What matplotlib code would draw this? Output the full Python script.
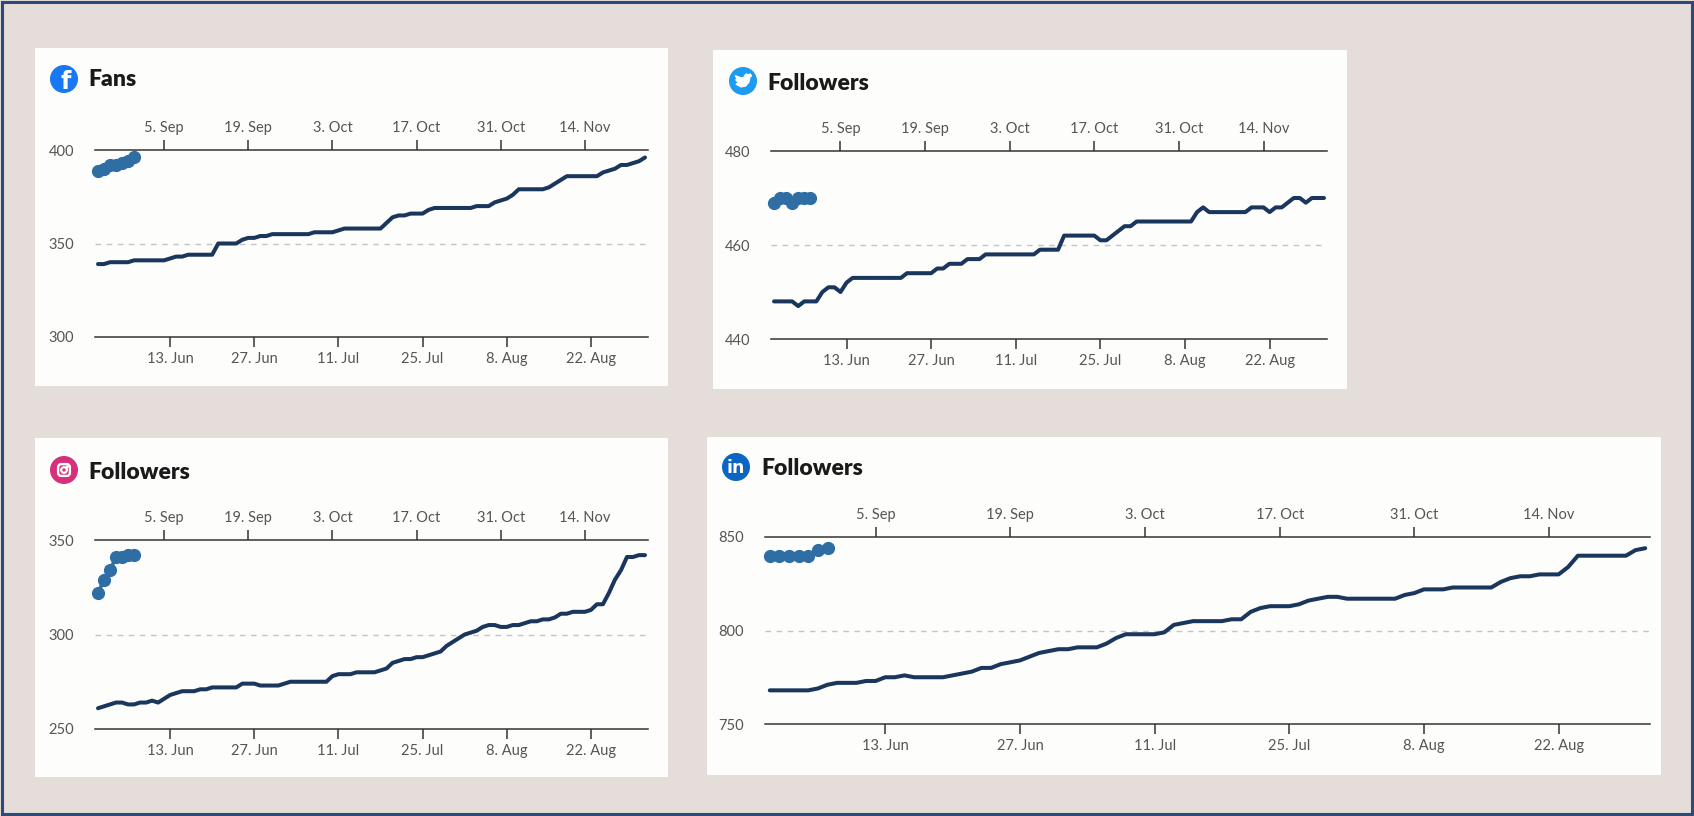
import matplotlib
matplotlib.use('Agg')
import matplotlib.pyplot as plt
import matplotlib.dates as mdates
from matplotlib.patches import Rectangle, Circle, FancyBboxPatch, Polygon
from matplotlib.ticker import FixedLocator, FuncFormatter
import pandas as pd

# daily values, 1 Jun - 31 Aug
days = pd.date_range('2021-06-01', periods=92, freq='D')
shift_days = 85   # top axis runs 85 days ahead of the bottom one

fb_fans = [339, 339, 340, 340, 340, 340, 341, 341, 341, 341, 341, 341, 342, 343, 343, 344,
           344, 344, 344, 344, 350, 350, 350, 350, 352, 353, 353, 354, 354, 355, 355, 355,
           355, 355, 355, 355, 356, 356, 356, 356, 357, 358, 358, 358, 358, 358, 358, 358,
           361, 364, 365, 365, 366, 366, 366, 368, 369, 369, 369, 369, 369, 369, 369, 370,
           370, 370, 372, 373, 374, 376, 379, 379, 379, 379, 379, 380, 382, 384, 386, 386,
           386, 386, 386, 386, 388, 389, 390, 392, 392, 393, 394, 396]

tw_followers = [448, 448, 448, 448, 447, 448, 448, 448, 450, 451, 451, 450, 452, 453, 453, 453,
                453, 453, 453, 453, 453, 453, 454, 454, 454, 454, 454, 455, 455, 456, 456, 456,
                457, 457, 457, 458, 458, 458, 458, 458, 458, 458, 458, 458, 459, 459, 459, 459,
                462, 462, 462, 462, 462, 462, 461, 461, 462, 463, 464, 464, 465, 465, 465, 465,
                465, 465, 465, 465, 465, 465, 467, 468, 467, 467, 467, 467, 467, 467, 467, 468,
                468, 468, 467, 468, 468, 469, 470, 470, 469, 470, 470, 470]

ig_followers = [261, 262, 263, 264, 264, 263, 263, 264, 264, 265, 264, 266, 268, 269, 270, 270,
                270, 271, 271, 272, 272, 272, 272, 272, 274, 274, 274, 273, 273, 273, 273, 274,
                275, 275, 275, 275, 275, 275, 275, 278, 279, 279, 279, 280, 280, 280, 280, 281,
                282, 285, 286, 287, 287, 288, 288, 289, 290, 291, 294, 296, 298, 300, 301, 302,
                304, 305, 305, 304, 304, 305, 305, 306, 307, 307, 308, 308, 309, 311, 311, 312,
                312, 312, 313, 316, 316, 322, 329, 334, 341, 341, 342, 342]

li_followers = [768, 768, 768, 768, 768, 769, 771, 772, 772, 772, 773, 773, 775, 775, 776, 775,
                775, 775, 775, 776, 777, 778, 780, 780, 782, 783, 784, 786, 788, 789, 790, 790,
                791, 791, 791, 793, 796, 798, 798, 798, 798, 799, 803, 804, 805, 805, 805, 805,
                806, 806, 810, 812, 813, 813, 813, 814, 816, 817, 818, 818, 817, 817, 817, 817,
                817, 817, 819, 820, 822, 822, 822, 823, 823, 823, 823, 823, 826, 828, 829, 829,
                830, 830, 830, 834, 840, 840, 840, 840, 840, 840, 843, 844]

n_recent = 7   # last week, drawn as dots against the top axis

bottom_ticks = pd.date_range('2021-06-13', periods=6, freq='14D')
top_ticks = pd.date_range('2021-09-05', periods=6, freq='14D')

W, H = 1694, 816
BG = '#e4ddd9'
LINE = '#1b365d'
DOTS = '#2f6ea5'
FONT = ['Lato', 'DejaVu Sans']

plt.rcParams['font.family'] = FONT

fig = plt.figure(figsize=(W / 100, H / 100), dpi=100, facecolor=BG)


def px_rect(x0, y0, x1, y1):
    return [x0 / W, 1 - y1 / H, (x1 - x0) / W, (y1 - y0) / H]


def date_fmt(x, pos):
    d = mdates.num2date(x)
    return '{0}. {1}'.format(d.day, d.strftime('%b'))


def panel(box, axbox, series, ylims, title, icon_xy, title_xy, icon):
    # white card
    fig.add_artist(Rectangle((box[0] / W, 1 - box[3] / H), (box[2] - box[0]) / W,
                             (box[3] - box[1]) / H, transform=fig.transFigure,
                             facecolor='#fdfdfc', edgecolor='none', zorder=-1))
    ax = fig.add_axes(px_rect(*axbox))
    ax.patch.set_visible(False)
    lo, hi = ylims
    mid = (lo + hi) / 2
    x0 = mdates.date2num(days[0]) - 0.5
    x1 = mdates.date2num(days[-1]) + 0.5

    ax.plot(days, series, color=LINE, lw=2.9, solid_capstyle='round',
            solid_joinstyle='round', zorder=3)
    ax.axhline(mid, color='#c4c4c4', lw=1, ls=(0, (4, 4)), zorder=1)
    ax.set_xlim(x0, x1)
    ax.set_ylim(lo, hi)
    ax.set_yticks([lo, mid, hi])
    ax.set_yticklabels(['{0:g}'.format(v) for v in (lo, mid, hi)])

    for s in ['left', 'right', 'top']:
        ax.spines[s].set_visible(False)
    ax.spines['bottom'].set_color('#333333')
    ax.spines['bottom'].set_linewidth(1.1)
    ax.xaxis.set_major_locator(FixedLocator(mdates.date2num(bottom_ticks)))
    ax.xaxis.set_major_formatter(FuncFormatter(date_fmt))
    ax.tick_params(axis='x', length=7, width=1.1, color='#333333', pad=4,
                   labelsize=10.5, labelcolor='#555555')
    ax.tick_params(axis='y', length=0, pad=15, labelsize=10.5, labelcolor='#555555')

    # top axis for the most recent days
    ax2 = ax.twiny()
    ax2.set_xlim(x0 + shift_days, x1 + shift_days)
    ax2.plot(days[-n_recent:], series[-n_recent:], color=DOTS, lw=2.6, marker='o',
             markersize=8.5, zorder=4, clip_on=False)
    for s in ['left', 'right', 'bottom']:
        ax2.spines[s].set_visible(False)
    ax2.spines['top'].set_color('#333333')
    ax2.spines['top'].set_linewidth(1.1)
    ax2.xaxis.set_major_locator(FixedLocator(mdates.date2num(top_ticks)))
    ax2.xaxis.set_major_formatter(FuncFormatter(date_fmt))
    ax2.tick_params(axis='x', length=7, width=1.1, color='#333333', pad=4,
                    labelsize=10.5, labelcolor='#555555')

    fig.text(title_xy[0] / W, 1 - title_xy[1] / H, title, fontsize=16.5,
             fontweight='heavy', color='#1a1a1a', ha='left', va='center')

    r = 14
    ia = fig.add_axes(px_rect(icon_xy[0] - r, icon_xy[1] - r, icon_xy[0] + r, icon_xy[1] + r))
    ia.set_xlim(-1, 1)
    ia.set_ylim(-1, 1)
    ia.axis('off')
    icon(ia)


def fb_icon(ia):
    ia.add_patch(Circle((0, 0), 0.95, color='#1877f2'))
    ia.text(0.14, -0.2, 'f', color='white', fontsize=17, fontweight='bold',
            ha='center', va='center', family='DejaVu Sans')


def tw_icon(ia):
    ia.add_patch(Circle((0, 0), 0.95, color='#1d9bf0'))
    bird = [(-0.55, 0.38), (-0.38, 0.12), (-0.52, 0.1), (-0.32, -0.14), (-0.5, -0.22),
            (-0.15, -0.42), (0.18, -0.36), (0.42, -0.08), (0.5, 0.28), (0.62, 0.4),
            (0.48, 0.38), (0.56, 0.5), (0.4, 0.44), (0.24, 0.5), (0.1, 0.36),
            (0.08, 0.22), (-0.22, 0.24)]
    ia.add_patch(Polygon(bird, closed=True, color='white'))


def ig_icon(ia):
    ia.add_patch(Circle((0, 0), 0.95, color='#d6307a'))
    ia.add_patch(FancyBboxPatch((-0.42, -0.42), 0.84, 0.84,
                                boxstyle='round,pad=0,rounding_size=0.22',
                                facecolor='none', edgecolor='white', lw=1.7))
    ia.add_patch(Circle((0, 0), 0.2, facecolor='none', edgecolor='white', lw=1.6))
    ia.add_patch(Circle((0.23, 0.23), 0.06, color='white'))


def li_icon(ia):
    ia.add_patch(Circle((0, 0), 0.95, color='#0a66c2'))
    ia.text(0.0, -0.05, 'in', color='white', fontsize=12.5, fontweight='bold',
            ha='center', va='center', family='DejaVu Sans')


panel((35, 48, 668, 386), (95, 150, 648, 337), fb_fans, (300, 400), 'Fans',
      (64, 79), (88, 80), fb_icon)
panel((713, 50, 1347, 389), (771, 151, 1327, 339), tw_followers, (440, 480), 'Followers',
      (743, 81), (767, 83), tw_icon)
panel((35, 438, 668, 777), (95, 540, 648, 729), ig_followers, (250, 350), 'Followers',
      (64, 470), (88, 472), ig_icon)
panel((707, 437, 1661, 775), (765, 537, 1650, 724), li_followers, (750, 850), 'Followers',
      (736, 467), (761, 469), li_icon)

# thin dark frame round the whole picture
fig.add_artist(Rectangle((0.001, 0.002), 0.998, 0.996, transform=fig.transFigure,
                         facecolor='none', edgecolor='#2c4a7a', lw=2.2, zorder=10))

fig.savefig('out.png', dpi=100, facecolor=BG)
